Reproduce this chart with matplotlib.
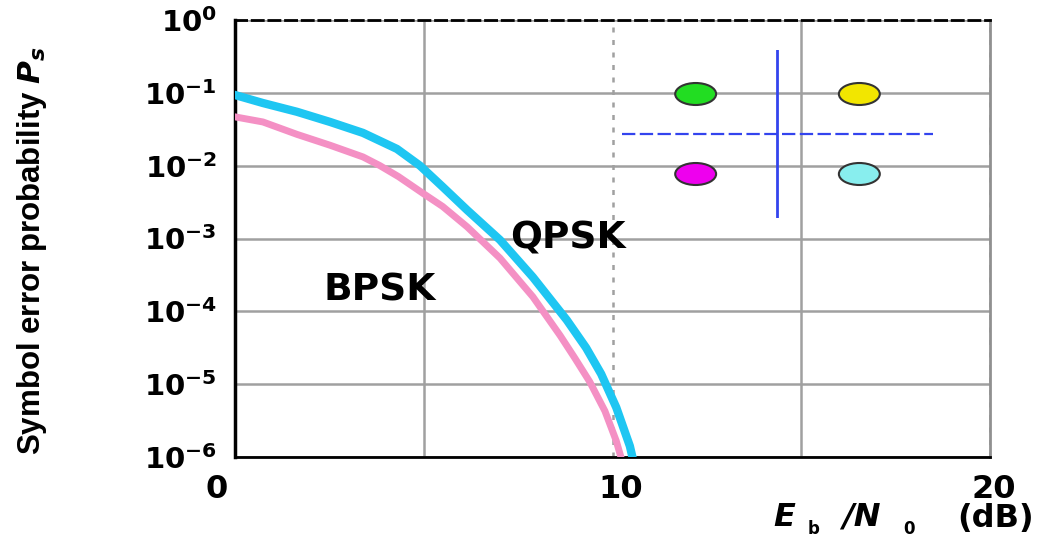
import numpy as np
import matplotlib
matplotlib.use("Agg")
import matplotlib.pyplot as plt
from matplotlib.patches import Ellipse
from matplotlib.ticker import FuncFormatter
from matplotlib.transforms import ScaledTranslation

plt.rcParams['font.family'] = ['DejaVu Sans']
plt.rcParams['mathtext.fontset'] = 'custom'
plt.rcParams['mathtext.rm'] = 'DejaVu Sans:bold'
plt.rcParams['mathtext.it'] = 'DejaVu Sans:bold:italic'
plt.rcParams['mathtext.bf'] = 'DejaVu Sans:bold'

# --- data (Eb/N0 in dB, log10 of symbol error prob) ---
qpsk_db = [0.0, 0.74, 1.64, 2.52, 3.39, 4.29, 4.90, 5.5, 6.15, 7.02, 7.89, 8.79, 9.3, 9.7, 10.1, 10.46, 10.55]
qpsk_log = [-1.03, -1.14, -1.26, -1.40, -1.55, -1.77, -2.00, -2.29, -2.61, -3.02, -3.53, -4.12, -4.50, -4.86, -5.32, -5.85, -6.05]

bpsk_db = [0.0, 0.74, 1.64, 2.52, 3.39, 3.84, 4.33, 4.98, 5.5, 6.15, 7.02, 7.89, 8.61, 9.0, 9.4, 9.8, 10.1, 10.25]
bpsk_log = [-1.33, -1.40, -1.57, -1.72, -1.88, -2.00, -2.15, -2.38, -2.56, -2.84, -3.27, -3.80, -4.33, -4.64, -4.97, -5.37, -5.78, -6.05]

# QPSK constellation (inset)
const_i = [-1, 1, -1, 1]
const_q = [1, 1, -1, -1]
const_colors = ['#22dd22', '#f2e600', '#ee00ee', '#88eeee']

fig = plt.figure(figsize=(10.63, 5.40), dpi=100)
ax = fig.add_axes([235/1063, 1 - 457/540, 755/1063, 437/540])

ax.plot(bpsk_db, 10 ** np.array(bpsk_log), color='#f490c4', lw=5, solid_joinstyle='round', zorder=3)
ax.plot(qpsk_db, 10 ** np.array(qpsk_log), color='#1ec6f2', lw=6, solid_joinstyle='round', zorder=4)

ax.set_yscale('log')
ax.set_xlim(0, 20)
ax.set_ylim(1e-6, 1)

ax.set_xticks([0, 10, 20])
ax.set_xticks([5, 15], minor=True)
ax.set_xticklabels(['0', '10', '20'], fontsize=23, fontweight='bold')
ax.set_yticks([10.0 ** k for k in range(-6, 1)])
ax.yaxis.set_minor_locator(plt.NullLocator())
ax.yaxis.set_major_formatter(FuncFormatter(lambda v, p: r'$10^{%d}$' % round(np.log10(v))))
for lab in ax.get_yticklabels():
    lab.set_fontsize(21)
ax.tick_params(axis='both', which='both', length=0)
ax.tick_params(axis='y', pad=13)
ax.tick_params(axis='x', pad=12)

# the x tick labels sit a bit off their ticks in the original
for lab, dx in zip(ax.get_xticklabels(), [-18, 8, 4]):
    lab.set_transform(lab.get_transform() + ScaledTranslation(dx / 100, 0, fig.dpi_scale_trans))

ax.grid(True, axis='y', which='major', color='#a0a0a0', lw=1.8)
ax.grid(True, axis='x', which='minor', color='#a0a0a0', lw=1.8)
ax.grid(True, axis='x', which='major', color='#a0a0a0', lw=1.8, ls=(0, (2, 3)))

ax.spines['left'].set_linewidth(2.5)
ax.spines['bottom'].set_linewidth(2)
ax.spines['top'].set_linewidth(2)
ax.spines['top'].set_linestyle((0, (4, 2)))
ax.spines['right'].set_color('#909090')
ax.spines['right'].set_linewidth(2)

ax.text(7.3, 10 ** -3.0, 'QPSK', fontsize=27, fontweight='bold', va='center', ha='left', zorder=5)
ax.text(2.35, 10 ** -3.72, 'BPSK', fontsize=27, fontweight='bold', va='center', ha='left', zorder=5)

fig.text(32/1063, 0.535, r'Symbol error probability $P_s$', rotation=90,
         fontsize=22.5, fontweight='bold', family='Liberation Sans', ha='center', va='center')

# x label: E_b / N_0 (dB)
fig.text(773/1063, 1 - 517/540, 'E', fontsize=23, fontweight='bold', style='italic', ha='left', va='center')
fig.text(808/1063, 1 - 538/540, 'b', fontsize=12, fontweight='bold', ha='left', va='bottom')
fig.text(842/1063, 1 - 517/540, '/N', fontsize=23, fontweight='bold', style='italic', ha='left', va='center')
fig.text(903/1063, 1 - 538/540, '0', fontsize=12, fontweight='bold', ha='left', va='bottom')
fig.text(957/1063, 1 - 518/540, '(dB)', fontsize=23, fontweight='bold', ha='left', va='center')

# inset constellation
ins = fig.add_axes([622/1063, 1 - 218/540, 311/1063, 168/540])
ins.set_xlim(-1.9, 1.9)
ins.set_ylim(-2.1, 2.1)
ins.axis('off')
ins.axvline(0, ymin=0, ymax=1, color='#3344ee', lw=2)
ins.axhline(0, xmin=0, xmax=1, color='#3344ee', lw=1.6, ls=(0, (6, 2)))
for xi, qi, c in zip(const_i, const_q, const_colors):
    ins.add_patch(Ellipse((xi, qi), 0.5, 0.55, facecolor=c, edgecolor='#333333', lw=1.5, zorder=3))

fig.savefig('out.png', dpi=100)
